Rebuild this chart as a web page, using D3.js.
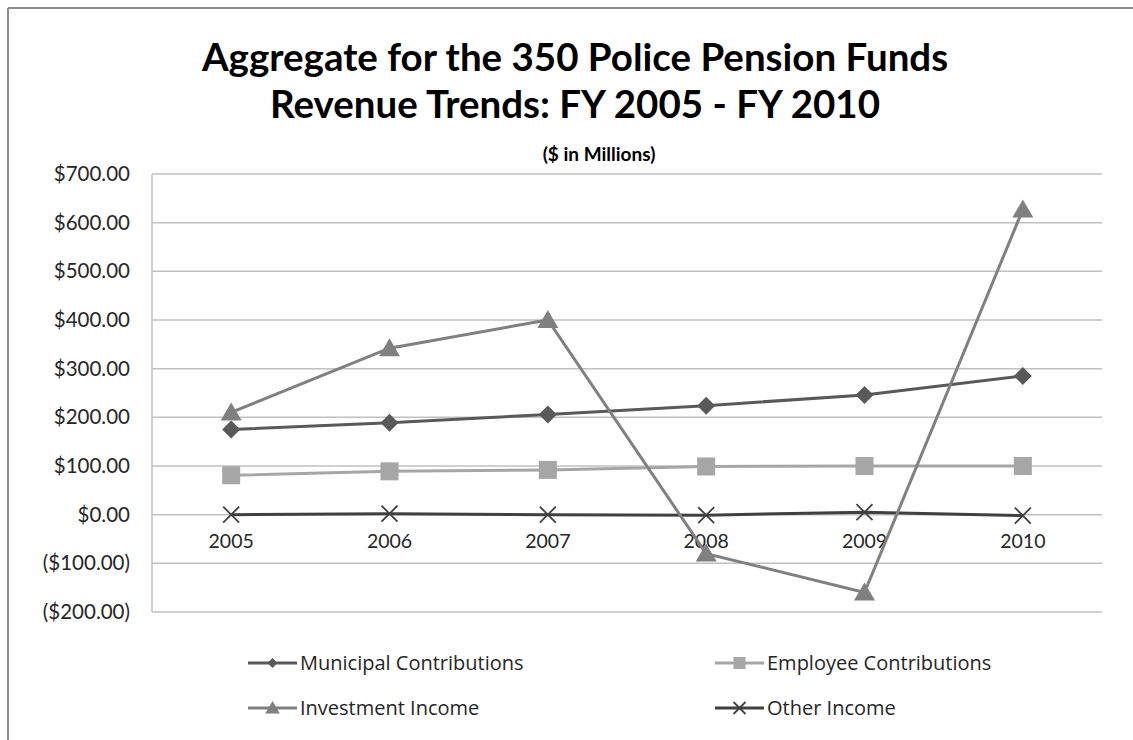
<!DOCTYPE html>
<html><head><meta charset="utf-8">
<script src="https://cdnjs.cloudflare.com/ajax/libs/d3/7.8.5/d3.min.js"></script>
<style>body{margin:0;background:#fff;} svg{display:block;}</style>
</head><body>
<svg id="c" width="1133" height="740"></svg>
<script>
const years = ["2005","2006","2007","2008","2009","2010"];
const municipal = [175, 189, 206, 224, 246, 285];
const employee = [81, 89, 92, 99, 100, 100];
const investment = [210, 342, 400, -80, -160, 627];
const other = [0, 2, 0, -1, 5, -2];
const seriesNames = ["Municipal Contributions","Employee Contributions","Investment Income","Other Income"];
const yTicks = [-200,-100,0,100,200,300,400,500,600,700];

const series = [
  {name: seriesNames[0], values: municipal, color: "#595959", marker: "diamond"},
  {name: seriesNames[1], values: employee, color: "#a6a6a6", marker: "square"},
  {name: seriesNames[2], values: investment, color: "#808080", marker: "triangle"},
  {name: seriesNames[3], values: other, color: "#404040", marker: "x"}
];

const svg = d3.select("#c");
const font = "Lato, 'Open Sans', sans-serif";
const font2 = "'Open Sans', Lato, sans-serif";

// frame
svg.append("line").attr("x1",8).attr("y1",8).attr("x2",1133).attr("y2",8).attr("stroke","#8c8c8c").attr("stroke-width",2);
svg.append("line").attr("x1",8).attr("y1",8).attr("x2",8).attr("y2",740).attr("stroke","#8c8c8c").attr("stroke-width",2);

const L = 152, R = 1102, T = 174, B = 612;
const x = d3.scaleBand().domain(years).range([L, R]);
const y = d3.scaleLinear().domain([-200, 700]).range([B, T]);
const cx = d => x(d) + x.bandwidth()/2;

// gridlines
svg.append("g").selectAll("line").data(yTicks).join("line")
  .attr("x1", L).attr("x2", R).attr("y1", d=>y(d)).attr("y2", d=>y(d))
  .attr("stroke", "#c0c0c0").attr("stroke-width", 1.5);
svg.append("line").attr("x1",L).attr("x2",L).attr("y1",T).attr("y2",B).attr("stroke","#c0c0c0").attr("stroke-width",1.5);

// y axis labels
const fmt = v => v < 0 ? "($" + d3.format(",.2f")(-v) + ")" : "$" + d3.format(",.2f")(v);
const yAxis = d3.axisLeft(y).tickValues(yTicks).tickFormat(fmt).tickSize(0).tickPadding(22);
const gy = svg.append("g").attr("transform", `translate(${L},0)`).call(yAxis);
gy.select(".domain").remove();
gy.selectAll("text").attr("font-family", font).attr("font-size", 20.5).attr("fill", "#262626");

// x axis labels at zero line
const xAxis = d3.axisBottom(x).tickSize(0).tickPadding(19);
const gx = svg.append("g").attr("transform", `translate(0,${y(0)})`).call(xAxis);
gx.select(".domain").remove();
gx.selectAll("text").attr("font-family", font).attr("font-size", 19.5).attr("fill", "#262626");

// lines
const line = d3.line().x((d,i)=>cx(years[i])).y(d=>y(d));
function marker(g, type, color, s) {
  if (type === "diamond") g.append("path").attr("d", `M0,${-s}L${s},0L0,${s}L${-s},0Z`).attr("fill", color);
  else if (type === "square") g.append("rect").attr("x",-s).attr("y",-s).attr("width",2*s).attr("height",2*s).attr("fill",color);
  else if (type === "triangle") g.append("path").attr("d", `M0,${-s}L${s*1.05},${s*0.8}L${-s*1.05},${s*0.8}Z`).attr("fill", color);
  else if (type === "x") g.append("path").attr("d", `M${-s},${-s}L${s},${s}M${-s},${s}L${s},${-s}`).attr("stroke", color).attr("stroke-width",1.8).attr("fill","none");
}
const order = [1,0,3,2];
order.forEach(si => {
  const s = series[si];
  svg.append("path").datum(s.values).attr("d", line).attr("fill","none").attr("stroke", s.color).attr("stroke-width", 3);
});
const msize = {diamond: 9, square: 9, triangle: 10, x: 8};
order.forEach(si => {
  const s = series[si];
  s.values.forEach((v,i) => {
    const g = svg.append("g").attr("transform", `translate(${cx(years[i])},${y(v)})`);
    marker(g, s.marker, s.color, msize[s.marker]);
  });
});

// titles
svg.append("text").attr("x", 575).attr("y", 71).attr("text-anchor","middle").attr("font-family", font).attr("font-weight","bold").attr("font-size", 38.5).attr("fill","#000").text("Aggregate for the 350 Police Pension Funds");
svg.append("text").attr("x", 575).attr("y", 118).attr("text-anchor","middle").attr("font-family", font).attr("font-weight","bold").attr("font-size", 38.5).attr("fill","#000").text("Revenue Trends: FY 2005 - FY 2010");
svg.append("text").attr("x", 599).attr("y", 161).attr("text-anchor","middle").attr("font-family", font).attr("font-weight","bold").attr("font-size", 19).attr("fill","#000").text("($ in Millions)");

// legend
const legPos = [[248,663],[715,663],[248,708],[715,708]];
const lmsize = {diamond: 5, square: 6, triangle: 7, x: 6};
series.forEach((s,i) => {
  const [lx, ly] = legPos[i];
  const g = svg.append("g").attr("transform", `translate(${lx},${ly})`);
  g.append("line").attr("x1",0).attr("x2",49).attr("y1",0).attr("y2",0).attr("stroke",s.color).attr("stroke-width",3);
  const mg = g.append("g").attr("transform","translate(24.5,0)");
  marker(mg, s.marker, s.color, lmsize[s.marker]);
  g.append("text").attr("x",52).attr("y",0).attr("dy","0.36em").attr("font-family",font2).attr("font-size",20).attr("fill","#262626").text(s.name);
});
</script>
</body></html>
